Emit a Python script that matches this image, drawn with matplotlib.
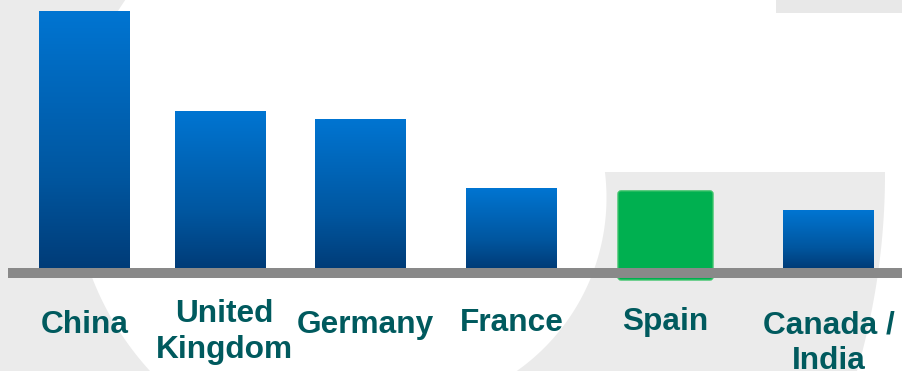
import numpy as np
import matplotlib
matplotlib.use("Agg")
import matplotlib.pyplot as plt
from matplotlib.colors import LinearSegmentedColormap
from matplotlib.patches import Polygon, Rectangle, FancyBboxPatch

# Data
countries = ["China", "United\nKingdom", "Germany", "France", "Spain", "Canada /\nIndia"]
values = [100, 61, 58, 31, 30, 22.5]
highlight = "Spain"

# Layout (pixels on a 902x371 canvas)
W, H = 902, 371
bar_x = [84.5, 220.5, 360.5, 511.5, 665.5, 828.5]
bar_w = 91
label_dx = [0, 4, 5, 0, 0, 0]
label_base = [333, 322, 333, 331, 330, 333]
line_step = 36
base_px = 268          # pixel row of the zero line
px_per_unit = 2.57     # vertical scale

text_col = "#005A5E"
grey_bg = "#EBEBEB"
blue_cmap = LinearSegmentedColormap.from_list(
    "bluebar", [(0.0, "#003C78"), (0.35, "#00569F"), (1.0, "#0075D2")])

fig = plt.figure(figsize=(W / 100, H / 100), dpi=100)
fig.patch.set_facecolor("white")

# background shapes in pixel space
bg = fig.add_axes([0, 0, 1, 1])
bg.set_xlim(0, W)
bg.set_ylim(H, 0)
bg.axis("off")

yy = np.linspace(0, H, 120)
left_edge = 370 - np.sqrt(298**2 - (yy - 170)**2)
pts = [(0, 0)] + list(zip(left_edge, yy)) + [(0, H)]
bg.add_patch(Polygon(pts, closed=True, facecolor=grey_bg, edgecolor="none"))

yb = np.linspace(172, H, 80)
band_l = 394.5 + np.sqrt(212**2 - (yb - 197.8)**2)
band_r = 177.4 + np.sqrt(707.6**2 - (yb - 173.9)**2)
band = list(zip(band_l, yb)) + list(zip(band_r[::-1], yb[::-1]))
bg.add_patch(Polygon(band, closed=True, facecolor=grey_bg, edgecolor="none"))

bg.add_patch(Rectangle((776, 0), W - 776, 13, facecolor="#E8E8E8", edgecolor="none"))

# bar axes
ax = fig.add_axes([0, 0, 1, 1])
ax.patch.set_alpha(0)
ylo = -(H - base_px) / px_per_unit
yhi = values[0] + 11 / px_per_unit

grad = np.linspace(1, 0, 256).reshape(-1, 1)
for x, v, name in zip(bar_x, values, countries):
    if name == highlight:
        bottom = -12 / px_per_unit
        box = FancyBboxPatch((x - (bar_w + 4) / 2, bottom), bar_w + 4, v - bottom,
                             boxstyle="round,pad=0,rounding_size=3",
                             mutation_aspect=1 / px_per_unit,
                             facecolor="#00B050", edgecolor="#3CC46A", lw=1, zorder=2)
        ax.add_patch(box)
    else:
        b = ax.bar(x, v, width=bar_w, color="none", zorder=2)[0]
        im = ax.imshow(grad, extent=[x - bar_w / 2, x + bar_w / 2, 0, v],
                       aspect="auto", cmap=blue_cmap, vmin=0, vmax=1, zorder=2)
        im.set_clip_path(b)

# zero line
ax.axhspan(-10 / px_per_unit, 0, xmin=8 / W, xmax=1, color="#898989", lw=0, zorder=3)

ax.set_xlim(0, W)
ax.set_ylim(ylo, yhi)
ax.axis("off")

# category labels
for x, dx, yb0, name in zip(bar_x, label_dx, label_base, countries):
    for i, line in enumerate(name.split("\n")):
        bg.text(x + dx, yb0 + i * line_step, line, ha="center", va="baseline",
                fontsize=22.8, fontweight="bold", color=text_col,
                family="Liberation Sans", zorder=5)

fig.savefig("out.png", dpi=100)
